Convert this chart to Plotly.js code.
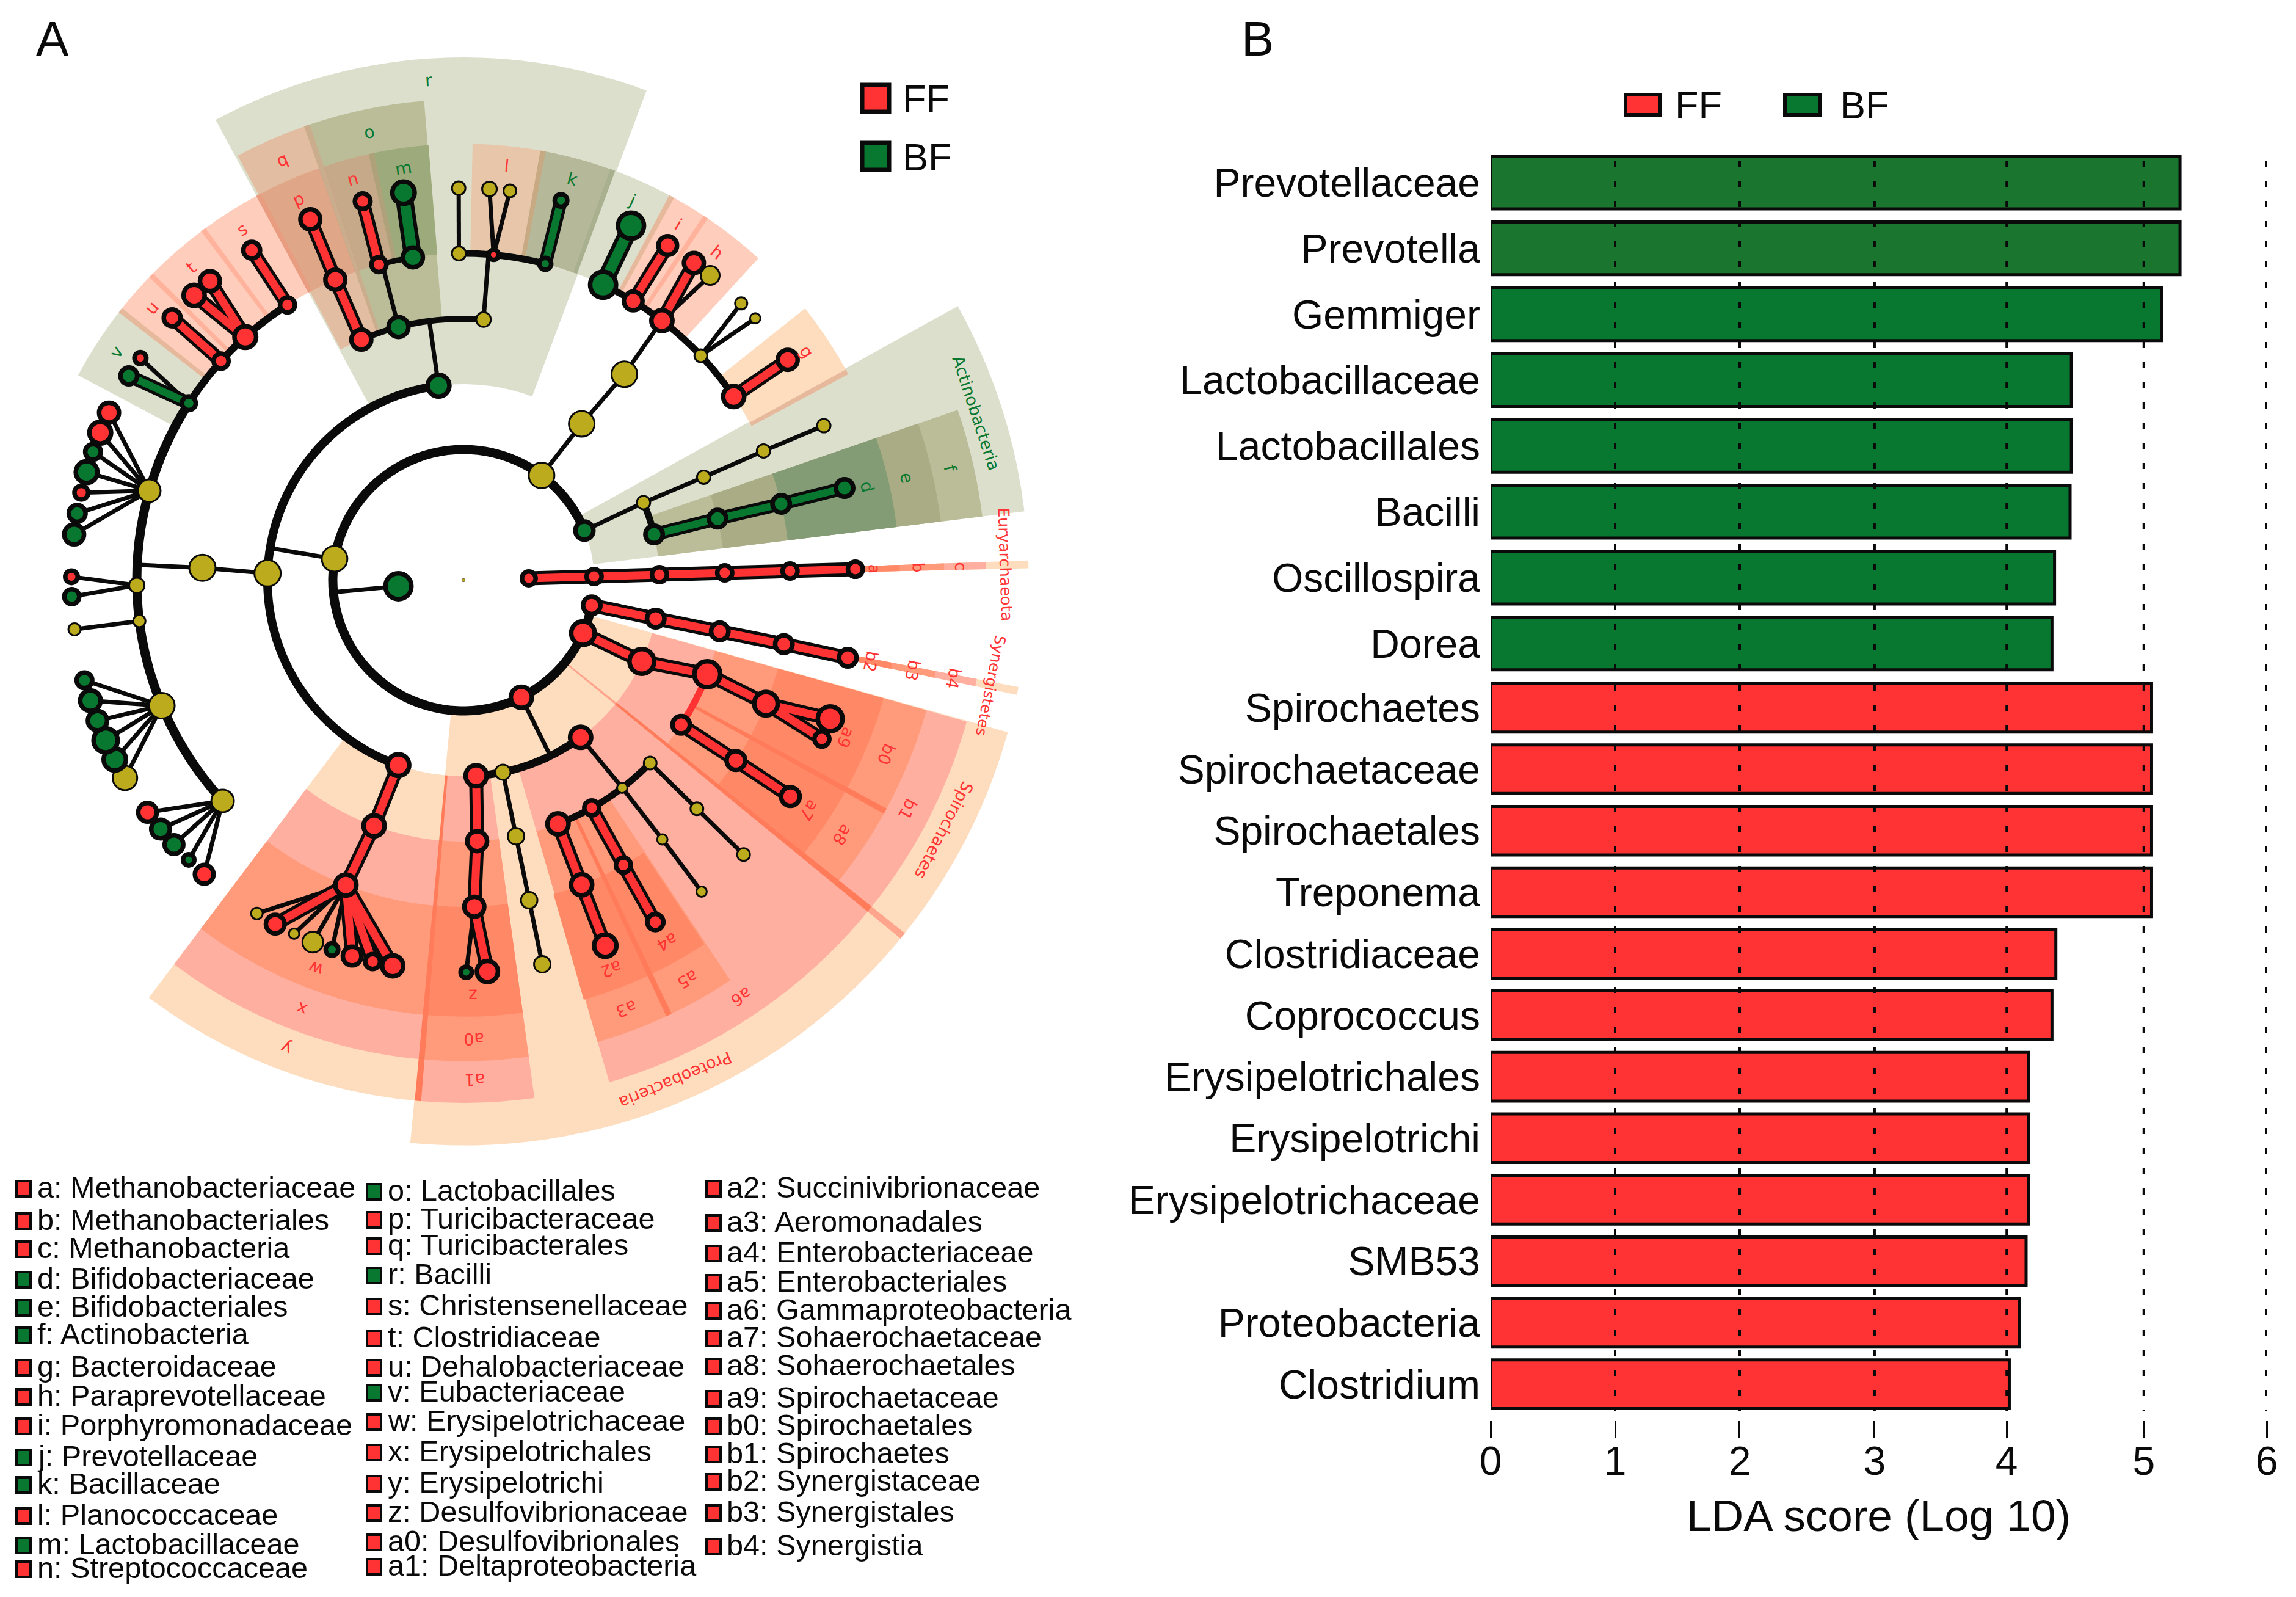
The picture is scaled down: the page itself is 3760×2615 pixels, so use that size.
<!DOCTYPE html>
<html><head><meta charset="utf-8">
<script src="https://cdn.plot.ly/plotly-3.0.1.min.js"></script>
<style>html,body{margin:0;padding:0;background:#fff;overflow:hidden;width:3760px;height:2615px}
#plot{position:absolute;left:-200px;top:0}</style></head>
<body><div id="plot"></div>
<script>
// ---------- panel B data ----------
const barTaxa = ['Prevotellaceae','Prevotella','Gemmiger','Lactobacillaceae','Lactobacillales','Bacilli','Oscillospira','Dorea','Spirochaetes','Spirochaetaceae','Spirochaetales','Treponema','Clostridiaceae','Coprococcus','Erysipelotrichales','Erysipelotrichi','Erysipelotrichaceae','SMB53','Proteobacteria','Clostridium'];
const barScores = [5.33,5.33,5.19,4.49,4.49,4.48,4.36,4.34,5.11,5.11,5.11,5.11,4.37,4.34,4.16,4.16,4.16,4.14,4.09,4.01];
const barGroups = ['BF','BF','BF','BF','BF','BF','BF','BF','FF','FF','FF','FF','FF','FF','FF','FF','FF','FF','FF','FF'];
const tickSpots = [0,0.963,1.926,2.969,3.99,5.05,6];
const tickLabels = ['0','1','2','3','4','5','6'];

// ---------- panel A data: [level, angle, diameter, enriched group]  (N = not significant) ----------
const nodeRows = [
 [0,0,6,'N'],[1,185.3,50,'B'],[1,1.6,30,'F'],
 [2,170.6,45,'N'],[2,53.3,45,'N'],[2,22.3,37,'B'],[2,1.6,32,'F'],[2,348.9,36,'F'],[2,336.1,46,'F'],[2,296.3,42,'F'],
 [3,97.3,43,'B'],[3,178,46,'N'],[3,250.6,43,'F'],[3,52.9,45,'N'],[3,23.3,25,'N'],[3,13.5,36,'B'],[3,1.6,32,'F'],[3,348.7,36,'F'],[3,335.5,48,'F'],[3,306.7,42,'F'],[3,281.6,28,'N'],[3,273.7,42,'F'],
 [4,113,40,'F'],[4,104.4,40,'B'],[4,85.6,27,'N'],[4,177.3,46,'N'],[4,250,42,'F'],[4,52,45,'N'],[4,23.2,25,'N'],[4,13.6,36,'B'],[4,1.6,32,'F'],[4,348.7,36,'F'],[4,338.9,50,'F'],[4,326.4,36,'F'],[4,315.6,24,'N'],[4,307.4,20,'N'],[4,299.4,32,'F'],[4,291.2,42,'F'],[4,281.6,30,'N'],[4,273,40,'F'],
 [5,113.1,40,'F'],[5,105,32,'F'],[5,98.9,40,'B'],[5,90.8,26,'N'],[5,84.7,24,'F'],[5,75.5,27,'B'],[5,64.7,50,'B'],[5,58.7,38,'F'],[5,52.6,42,'F'],[5,43.4,24,'N'],[5,34.2,42,'F'],[5,23.3,25,'N'],[5,13.5,36,'B'],[5,1.6,32,'F'],[5,348.7,36,'F'],[5,337.8,46,'F'],[5,326.5,38,'F'],[5,315.6,24,'N'],[5,307.5,20,'N'],[5,299.3,32,'F'],[5,291.2,42,'F'],[5,281.6,30,'N'],[5,271.9,40,'F'],[5,248.9,42,'F'],[5,222.5,40,'N'],[5,202.6,45,'N'],[5,187.2,23,'N'],[5,180.9,28,'N'],[5,164.1,40,'N'],[5,147.2,30,'B'],[5,137.9,32,'F'],[5,131.9,43,'F'],[5,122.6,32,'F'],
 [6,113,40,'F'],[6,104.9,33,'F'],[6,98.8,44,'B'],[6,90.7,25,'N'],[6,86.2,27,'N'],[6,83.2,24,'N'],[6,75.6,28,'B'],[6,64.7,50,'B'],[6,58.6,38,'F'],[6,54,40,'F'],[6,51,34,'N'],[6,44.9,23,'N'],[6,41.9,20,'N'],[6,34.2,40,'F'],[6,23.2,25,'N'],[6,13.6,36,'B'],[6,1.6,32,'F'],[6,348.6,36,'F'],[6,339.3,48,'F'],[6,336.1,32,'F'],[6,326.5,38,'F'],[6,315.6,24,'N'],[6,307.4,20,'N'],[6,299.3,34,'F'],[6,291.2,44,'F'],[6,281.6,30,'N'],[6,273.5,42,'F'],[6,270.4,26,'B'],
 [6,259.6,42,'F'],[6,256.6,32,'F'],[6,253.5,38,'F'],[6,250.4,28,'B'],[6,247.4,37,'N'],[6,244.4,20,'N'],[6,241.3,38,'F'],[6,238.2,22,'N'],
 [6,228.6,38,'F'],[6,225.5,26,'B'],[6,222.4,38,'B'],[6,219.4,38,'B'],[6,216.3,38,'F'],
 [6,210.3,43,'N'],[6,207.2,44,'B'],[6,204.1,47,'B'],[6,201,39,'B'],[6,197.9,41,'B'],[6,194.8,33,'B'],[6,187.2,23,'N'],
 [6,182.4,32,'B'],[6,179.5,28,'F'],
 [6,173.3,40,'B'],[6,170.2,35,'B'],[6,167.1,30,'F'],[6,164,43,'B'],[6,160.9,33,'B'],[6,157.9,43,'F'],[6,154.7,40,'F'],
 [6,148.6,35,'B'],[6,145.5,27,'F'],[6,138,35,'F'],[6,133.4,42,'F'],[6,130.3,40,'F'],[6,122.7,35,'F']
];
// [from level, from angle, to level, to angle, kind]  (n = plain branch, F / B = enriched branch, W = wide enriched branch)
const linkRows = [
 [1,185.3,2,185.3,'n'],[2,170.6,3,170.6,'n'],[3,178,4,177.3,'n'],[4,177.3,5,177.3,'n'],
 [2,53.3,3,52.9,'n'],[3,52.9,4,52,'n'],[4,52,5,52.6,'n'],
 [2,22.3,3,23.3,'n'],[3,23.3,4,23.2,'n'],[4,23.2,5,23.3,'n'],[5,23.3,6,23.2,'n'],
 [3,97.3,4,97.5,'n'],[4,85.6,5,85.6,'n'],[4,104.4,5,104.4,'n'],[5,84.7,6,86.2,'n'],[5,84.7,6,83.2,'n'],[5,90.8,6,90.7,'n'],
 [5,75.5,6,75.6,'B'],[5,98.9,6,98.8,'W'],[5,105,6,104.9,'F'],[4,113,5,113.1,'F'],[5,113.1,6,113,'F'],
 [5,64.7,6,64.7,'W'],[5,58.7,6,58.6,'F'],[5,52.6,6,54,'F'],[5,52.6,6,51,'n'],[5,43.4,6,44.9,'n'],[5,43.4,6,41.9,'n'],[5,34.2,6,34.2,'F'],
 [3,13.5,4,13.6,'B'],[4,13.6,5,13.5,'B'],[5,13.5,6,13.6,'B'],
 [1,1.6,2,1.6,'F'],[2,1.6,3,1.6,'F'],[3,1.6,4,1.6,'F'],[4,1.6,5,1.6,'F'],[5,1.6,6,1.6,'F'],
 [2,348.9,3,348.7,'F'],[3,348.7,4,348.7,'F'],[4,348.7,5,348.7,'F'],[5,348.7,6,348.6,'F'],
 [2,336.1,3,335.5,'F'],[3,335.5,4,338.9,'F'],[4,338.9,5,337.8,'F'],[5,337.8,6,339.3,'F'],[5,337.8,6,336.1,'F'],
 [4,326.4,5,326.5,'F'],[5,326.5,6,326.5,'F'],
 [2,296.3,3,296.3,'n'],[3,306.7,4,307.4,'n'],[4,307.4,5,307.5,'n'],[5,307.5,6,307.4,'n'],[4,315.6,5,315.6,'n'],[5,315.6,6,315.6,'n'],
 [4,299.4,5,299.3,'F'],[5,299.3,6,299.3,'F'],[4,291.2,5,291.2,'F'],[5,291.2,6,291.2,'F'],
 [3,273.7,4,273,'F'],[4,273,5,271.9,'F'],[5,271.9,6,273.5,'F'],[5,271.9,6,270.4,'n'],
 [3,281.6,4,281.6,'n'],[4,281.6,5,281.6,'n'],[5,281.6,6,281.6,'n'],
 [3,250.6,4,250,'F'],[4,250,5,248.9,'F'],
 [5,248.9,6,238.2,'n'],[5,248.9,6,241.3,'F'],[5,248.9,6,244.4,'n'],[5,248.9,6,247.4,'n'],[5,248.9,6,250.4,'n'],[5,248.9,6,253.5,'F'],[5,248.9,6,256.6,'F'],[5,248.9,6,259.6,'F'],
 [5,222.5,6,216.3,'n'],[5,222.5,6,219.4,'n'],[5,222.5,6,222.4,'n'],[5,222.5,6,225.5,'n'],[5,222.5,6,228.6,'n'],
 [5,202.6,6,194.8,'n'],[5,202.6,6,197.9,'n'],[5,202.6,6,201,'n'],[5,202.6,6,204.1,'n'],[5,202.6,6,207.2,'n'],[5,202.6,6,210.3,'n'],
 [5,187.2,6,187.2,'n'],[5,180.9,6,179.5,'n'],[5,180.9,6,182.4,'n'],
 [5,164.1,6,154.7,'n'],[5,164.1,6,157.9,'n'],[5,164.1,6,160.9,'n'],[5,164.1,6,164,'n'],[5,164.1,6,167.1,'n'],[5,164.1,6,170.2,'n'],[5,164.1,6,173.3,'n'],
 [5,147.2,6,145.5,'n'],[5,147.2,6,148.6,'B'],[5,137.9,6,138,'F'],[5,131.9,6,130.3,'F'],[5,131.9,6,133.4,'F'],[5,122.6,6,122.7,'F']
];
// [level, from angle, to angle, thickness, colour kind]
const arcRows = [
 [2,22.3,348.9,15,'k'],[3,97.3,250.6,14,'k'],[3,13.5,23.3,11,'k'],[3,273.7,306.7,13,'k'],
 [4,85.6,113,10,'k'],[4,291.2,315.6,11,'k'],[4,326.4,338.9,11,'r'],
 [5,122.6,147.2,12,'k'],[5,147.2,222.5,15,'k'],[5,98.9,105,9,'k'],[5,75.5,90.8,11,'k'],[5,34.2,64.7,11,'k']
];
// [taxonomic level, from angle, to angle, shade]
const wedgeRows = [
 [2,7,29,'g1'],[2,264.6,321,'r1'],[2,321,344.4,'r1'],[2,1.2,2,'r1'],[2,348.3,349.1,'r1'],
 [3,7,19,'g2'],[3,69.5,118.3,'g1'],[3,233,265,'r1'],[3,265,277.8,'r2'],[3,286.2,321,'r2'],[3,321.2,344.3,'r2'],[3,1.2,2,'r2'],[3,348.3,349.1,'r2'],
 [4,7,19,'g3'],[4,94.7,109,'g2'],[4,109,118,'q'],[4,233,265,'r2'],[4,265,277.8,'r3'],[4,286.2,295.3,'r3'],[4,295.3,303.7,'r3'],[4,321.3,331.3,'r3'],[4,331.3,344.3,'r3'],[4,1.2,2,'r3'],[4,348.3,349.1,'r3'],
 [5,7,19,'g4'],[5,94.6,102.2,'m'],[5,102.2,109,'n'],[5,109,118,'p'],[5,79.5,88.8,'l'],[5,70,79.5,'k'],[5,61.5,70,'g1'],[5,56.3,61.5,'pk'],[5,47.5,56.3,'pk'],[5,28.5,38.5,'r1'],
 [5,118,126.6,'pk'],[5,126.6,135.7,'pk'],[5,135.7,141.8,'pk'],[5,141.8,152,'g1'],[5,233,265,'r3'],[5,265,277.8,'r4'],[5,286,295.1,'r4'],[5,295.1,303.5,'r4'],[5,321.3,331.2,'r4'],[5,331.2,344.3,'r4'],[5,1.2,2,'r4'],[5,348.3,349.1,'r4']
];
// [taxonomic level, boundary angle, shade]
const seamRows = [
 [5,118,'s1'],[5,109,'s2'],[4,109,'s3'],[5,102.2,'s4'],[5,126.6,'s5'],[5,135.7,'s5'],[5,141.8,'s6'],[5,79.5,'s7'],[5,70,'s8'],[5,61.5,'s6'],[5,56.3,'s5'],[5,28.5,'s6'],
 [2,321,'s9'],[3,321,'s10'],[3,265,'s10'],[4,295.3,'s10'],[4,331.3,'s10']
];
const wedgeShades = {r1:'#FDDDBD',r2:'#FFAFA0',r3:'#FF9B7B',r4:'#FF8866',g1:'#DCDFCB',g2:'#BBBD98',g3:'#A9AC85',g4:'#839C75',q:'#E2BDA1',p:'#DFA788',n:'#C5A988',m:'#9CAA7C',l:'#E8C6A9',k:'#B5B899',pk:'#FECDBB',
 s1:'#E89C80',s2:'#CF8D6B',s3:'#C9AD8D',s4:'#AFA27A',s5:'#FFB39D',s6:'#E6B99C',s7:'#C7AA83',s8:'#A9B08F',s9:'#FFA58D',s10:'#FF7B5A'};
const bandEnds = {2:8.65,3:8.0,4:7.36,5:6.68};
// [text, radius in levels, angle, font size, group]
const cladeLabels = [
 ['r',7.67,94,28,'B'],['o',7.01,101.9,28,'B'],['q',7.01,113.3,28,'F'],['m',6.37,98.3,28,'B'],['n',6.36,105.4,28,'F'],['p',6.35,113.4,28,'F'],['s',6.35,122.2,28,'F'],['t',6.34,131.1,28,'F'],['u',6.33,138.8,28,'F'],['v',6.35,146.7,28,'B'],
 ['l',6.38,84,28,'F'],['k',6.36,74.8,28,'B'],['j',6.36,66,28,'B'],['i',6.36,58.9,28,'F'],['h',6.34,52.3,28,'F'],['g',6.3,33.6,28,'F'],['d',6.34,13,28,'B'],['e',6.96,13,28,'B'],['f',7.64,12.9,28,'B'],['Actinobacteria',8.25,18.1,27,'B'],
 ['a',6.29,1.6,26,'F'],['b',6.96,1.6,26,'F'],['c',7.61,1.6,26,'F'],['Euryarchaeota',8.3,1.7,25.5,'F'],['Synergistetes',8.23,348.7,24.5,'F'],['b2',6.36,348.7,27,'F'],['b3',7.01,348.7,27,'F'],['b4',7.65,348.7,27,'F'],
 ['a9',6.33,337.6,27,'F'],['b0',7,337.6,27,'F'],['b1',7.65,332.7,27,'F'],['Spirochaetes',8.29,332.5,27,'F'],['a7',6.35,326.3,27,'F'],['a8',6.99,326.1,27,'F'],['a6',7.66,303.7,27,'F'],['a5',7.01,299.3,27,'F'],['a4',6.35,299.4,27,'F'],['a3',7.02,290.8,27,'F'],['a2',6.37,290.8,27,'F'],['Proteobacteria',8.31,293,27,'F'],
 ['z',6.36,271.3,28,'F'],['a0',7.02,271.3,27,'F'],['a1',7.65,271.3,27,'F'],['w',6.36,249.2,28,'F'],['x',7.01,249.3,28,'F'],['y',7.66,249.2,28,'F']
];
// key under the cladogram
const keyColumn1 = ['a: Methanobacteriaceae','b: Methanobacteriales','c: Methanobacteria','d: Bifidobacteriaceae','e: Bifidobacteriales','f: Actinobacteria','g: Bacteroidaceae','h: Paraprevotellaceae','i: Porphyromonadaceae','j: Prevotellaceae','k: Bacillaceae','l: Planococcaceae','m: Lactobacillaceae','n: Streptococcaceae'];
const keyColumn2 = ['o: Lactobacillales','p: Turicibacteraceae','q: Turicibacterales','r: Bacilli','s: Christensenellaceae','t: Clostridiaceae','u: Dehalobacteriaceae','v: Eubacteriaceae','w: Erysipelotrichaceae','x: Erysipelotrichales','y: Erysipelotrichi','z: Desulfovibrionaceae','a0: Desulfovibrionales','a1: Deltaproteobacteria'];
const keyColumn3 = ['a2: Succinivibrionaceae','a3: Aeromonadales','a4: Enterobacteriaceae','a5: Enterobacteriales','a6: Gammaproteobacteria','a7: Sohaerochaetaceae','a8: Sohaerochaetales','a9: Spirochaetaceae','b0: Spirochaetales','b1: Spirochaetes','b2: Synergistaceae','b3: Synergistales','b4: Synergistia'];
const keyGreenLetters = ['d','e','f','j','k','m','o','r','v'];
const keyRowsY1 = [1944,1997,2043,2093,2139,2184,2237,2285,2333,2384,2429,2480,2528,2567];
const keyRowsY2 = [1949,1995,2038,2086,2137,2189,2237,2278,2326,2376,2427,2475,2523,2563];
const keyRowsY3 = [1944,2000,2050,2098,2144,2189,2235,2288,2333,2379,2424,2475,2530];

// ---------- page geometry and styles ----------
const O=200, W=3760+O, H=2615, RED='#FF3333', GREEN='#087830', GREEN_TOP='#1A752F', YEL='#BDAB1E', TXT='#0a0a0a';
const CX=759, CY=950, PX_PER_LEVEL=107, RMAX=935;
const px=x=>(x+O)/W, py=y=>1-y/H;
const FONT='Liberation Sans, Arial, sans-serif', CLADEFONT='DejaVu Sans, sans-serif';

// wedges and arcs as polar bars
const bar={r:[],theta:[],width:[],base:[],color:[]};
function addBar(l0,l1,a0,a1,c){bar.base.push(l0);bar.r.push(l1-l0);bar.theta.push((a0+a1)/2);bar.width.push(a1-a0);bar.color.push(c);}
wedgeRows.forEach(w=>{addBar(w[0],bandEnds[w[0]],w[1],w[2],wedgeShades[w[3]]);});
seamRows.forEach(s=>{addBar(s[0],bandEnds[s[0]],s[1]-0.35,s[1]+0.35,wedgeShades[s[2]]);});
arcRows.forEach(a=>{const t=a[3]/PX_PER_LEVEL/2;addBar(a[0]-t,a[0]+t,a[1],a[2],a[4]==='k'?'#0a0a0a':RED);});

const linkKinds={n:[7,null],F:[23,RED],B:[22,GREEN],W:[29,GREEN]};
const traces=[{type:'barpolar',r:bar.r,theta:bar.theta,width:bar.width,base:bar.base,marker:{color:bar.color,line:{width:0}},hoverinfo:'skip',subplot:'polar'}];
Object.keys(linkKinds).forEach(k=>{
  const r=[],t=[];
  linkRows.filter(l=>l[4]===k).forEach(l=>{r.push(l[0],l[2],null);t.push(l[1],l[3],null);});
  traces.push({type:'scatterpolar',mode:'lines',r:r,theta:t,line:{color:'#0a0a0a',width:linkKinds[k][0]},connectgaps:false,hoverinfo:'skip',subplot:'polar'});
});
Object.keys(linkKinds).forEach(k=>{
  if(!linkKinds[k][1])return;
  const r=[],t=[];
  linkRows.filter(l=>l[4]===k).forEach(l=>{r.push(l[0],l[2],null);t.push(l[1],l[3],null);});
  traces.push({type:'scatterpolar',mode:'lines',r:r,theta:t,line:{color:linkKinds[k][1],width:k==='W'?17:(k==='B'?12:13)},connectgaps:false,hoverinfo:'skip',subplot:'polar'});
});
const rank={N:0,B:1,F:2};
const sorted=nodeRows.slice().sort((a,b)=>rank[a[3]]-rank[b[3]]);
const lw=n=>n[0]===0?0.5:(n[3]==='N'?3:7.5);
traces.push({type:'scatterpolar',mode:'markers',r:sorted.map(n=>n[0]),theta:sorted.map(n=>n[1]),
  marker:{size:sorted.map(n=>n[2]-lw(n)),color:sorted.map(n=>n[3]==='F'?RED:n[3]==='B'?GREEN:YEL),line:{color:'#0a0a0a',width:sorted.map(lw)},opacity:1},hoverinfo:'skip',subplot:'polar'});

// bars (panel B): the BF and FF blocks have slightly different row pitch in the figure, so each gets its own band
[['BF','y'],['FF','y2']].forEach(g=>{
  const idx=barTaxa.map((_,i)=>i).filter(i=>barGroups[i]===g[0]);
  traces.push({type:'bar',orientation:'h',name:g[0],x:idx.map(i=>barScores[i]),y:idx.map(i=>barTaxa[i]),width:g[0]==='BF'?0.8:0.79,
    marker:{color:idx.map(i=>g[0]==='BF'?(i<2?GREEN_TOP:GREEN):RED),line:{color:'#0a0a0a',width:5}},xaxis:'x',yaxis:g[1],hoverinfo:'skip'});
});

// annotations
const ann=[];
function txt(s,x,y,size,opts){ann.push(Object.assign({text:s,x:px(x),y:py(y),xref:'paper',yref:'paper',showarrow:false,xanchor:'left',yanchor:'middle',font:{family:FONT,size:size,color:TXT},borderpad:0},opts||{}));}
txt('A',58,64,80);txt('B',2032,64,80);
txt('FF',1477,161,63);txt('BF',1477,257,63);
txt('FF',2742,172,63);txt('BF',3012,172,63);
cladeLabels.forEach(l=>{
  const r=l[1]*PX_PER_LEVEL,a=l[2]*Math.PI/180;
  ann.push({text:l[0],x:px(CX+r*Math.cos(a)),y:py(CY-r*Math.sin(a)),xref:'paper',yref:'paper',showarrow:false,xanchor:'center',yanchor:'middle',textangle:90-l[2],
    font:{family:CLADEFONT,size:l[3],color:l[4]==='F'?RED:GREEN}});
});
const shapes=[];
function swatch(x0,y0,x1,y1,c,w){shapes.push({type:'rect',xref:'paper',yref:'paper',x0:px(x0),x1:px(x1),y0:py(y0),y1:py(y1),fillcolor:c,line:{color:'#0a0a0a',width:w},layer:'above'});}
swatch(1412,139,1456,183,RED,7);swatch(1412,234,1456,278,GREEN,7);
swatch(2662,155,2719,188,RED,6);swatch(2923,155,2981,188,GREEN,6);
[[keyColumn1,keyRowsY1,27,60],[keyColumn2,keyRowsY2,601,634],[keyColumn3,keyRowsY3,1157,1189]].forEach(c=>{
  c[0].forEach((s,i)=>{
    const key=s.split(':')[0];
    const y=c[1][i];
    txt(s,c[3],y,48.6);
    swatch(c[2],y-10,c[2]+23,y+15,keyGreenLetters.includes(key)?GREEN:RED,4);
  });
});
// dotted reference lines over the bars
tickSpots.slice(1).forEach(t=>{shapes.push({type:'line',xref:'x',yref:'paper',x0:t,x1:t,y0:py(263),y1:py(2310),line:{color:'#0a0a0a',width:4,dash:'10px,23px'},layer:'above'});});

const yCommon={type:'category',categoryorder:'array',autorange:'reversed',anchor:'x',showgrid:false,zeroline:false,showline:false,ticks:'',
    tickfont:{family:FONT,size:66,color:TXT},ticklabelstandoff:16,automargin:false};
const layout={width:W,height:H,margin:{l:0,r:0,t:0,b:0},paper_bgcolor:'#fff',plot_bgcolor:'rgba(0,0,0,0)',showlegend:false,barmode:'overlay',
  polar:{domain:{x:[px(CX-RMAX),px(CX+RMAX)],y:[py(CY+RMAX),py(CY-RMAX)]},bgcolor:'rgba(0,0,0,0)',barmode:'overlay',
    radialaxis:{visible:false,range:[0,RMAX/PX_PER_LEVEL]},angularaxis:{visible:false,rotation:0,direction:'counterclockwise'}},
  xaxis:{domain:[px(2441),px(3712)],range:[0,6],anchor:'free',position:py(2325),showgrid:false,zeroline:false,showline:false,
    tickmode:'array',tickvals:tickSpots,ticktext:tickLabels,ticks:'outside',ticklen:28,tickwidth:3,tickcolor:'#0a0a0a',ticklabelstandoff:-18,
    tickfont:{family:FONT,size:66,color:TXT},title:{text:'LDA score (Log 10)',font:{family:FONT,size:73,color:TXT},standoff:27},automargin:false},
  yaxis:Object.assign({},yCommon,{domain:[py(1107.5),py(245)],categoryarray:barTaxa.filter((_,i)=>barGroups[i]==='BF')}),
  yaxis2:Object.assign({},yCommon,{domain:[py(2317),py(1108.5)],categoryarray:barTaxa.filter((_,i)=>barGroups[i]==='FF')}),
  annotations:ann,shapes:shapes};
Plotly.newPlot('plot',traces,layout,{displayModeBar:false,staticPlot:true});
</script></body></html>
